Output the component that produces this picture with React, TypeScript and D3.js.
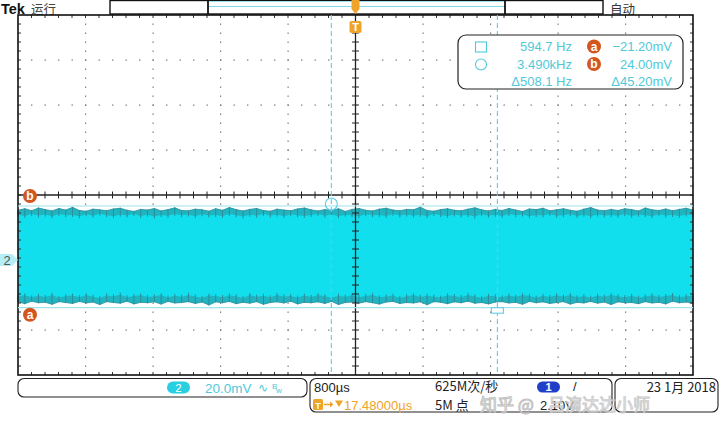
import React from "react";
import * as d3 from "d3";

// ---- data ----
const timeDomain = [-4, 4]; // ms, 800µs/div, 10 div
const voltDomain = [-51.11, 108.89]; // mV, 20mV/div, ch2 ground offset
const cursorTimes = [-0.2865, 1.6815]; // ms  (circle, square)
const cursorVolts = [-21.2, 24.0]; // mV (a, b)

const topEnv = [
  22.1, 22.8, 21.9, 23.1, 22.4, 21.8, 22.9, 22.2, 23.4, 22.0,
  21.7, 22.6, 22.3, 21.9, 22.7, 23.0, 22.1, 21.6, 22.5, 22.2,
  22.9, 21.8, 22.4, 23.2, 22.0, 21.9, 22.6, 22.3, 21.7, 22.8,
  22.1, 23.3, 22.4, 21.8, 22.5, 22.9, 22.0, 21.7, 22.6, 22.2,
  21.9, 22.7, 23.1, 22.3, 21.8, 22.4, 22.0, 22.8, 21.6, 22.5,
  22.9, 22.1, 21.8, 22.6, 23.0, 22.2, 21.9, 22.5, 22.3, 23.5,
  22.0, 21.7, 22.4, 22.8, 22.1, 21.9, 22.6, 23.2, 22.3, 21.8,
  22.5, 22.0, 22.9, 22.2, 21.6, 22.7, 22.4, 23.0, 21.9, 22.3,
  22.8, 22.1, 21.7, 22.6, 23.3, 22.2, 21.9, 22.5, 22.0, 22.8,
  22.4, 21.8, 23.1, 22.3, 22.0, 22.7, 21.9, 22.5, 23.0, 22.2,
];
const topInner = [
  20.1, 19.6, 20.4, 19.8, 20.2, 19.5, 20.5, 19.9, 20.0, 19.4,
  20.3, 19.7, 20.6, 19.9, 19.5, 20.2, 19.8, 20.4, 19.6, 20.1,
  19.3, 20.0, 19.7, 20.5, 19.9, 20.2, 19.5, 20.3, 19.8, 20.0,
  19.6, 20.4, 19.9, 19.4, 20.1, 19.7, 20.5, 19.8, 20.2, 19.5,
  20.3, 19.9, 19.6, 20.0, 20.4, 19.7, 20.2, 19.5, 20.1, 19.8,
  19.4, 20.3, 19.9, 20.0, 19.6, 20.5, 19.8, 20.2, 19.7, 20.1,
  19.5, 20.4, 19.9, 19.6, 20.2, 19.8, 20.0, 19.3, 20.3, 19.7,
  20.1, 19.6, 20.4, 19.9, 20.2, 19.5, 20.0, 19.8, 20.5, 19.7,
  19.9, 20.3, 19.6, 20.1, 19.4, 20.2, 19.8, 20.0, 19.7, 20.4,
  19.6, 20.1, 19.9, 19.5, 20.3, 19.8, 20.0, 19.6, 20.2, 19.9,
];
const bottomEnv = [
  -18.6, -19.4, -18.3, -19.0, -18.8, -19.7, -18.5, -18.9, -19.3, -18.4,
  -19.1, -18.7, -19.8, -18.5, -18.9, -19.2, -18.3, -19.5, -18.8, -19.0,
  -18.6, -19.6, -18.4, -19.1, -18.9, -18.5, -19.3, -18.7, -20.0, -18.6,
  -19.0, -18.4, -19.4, -18.8, -19.2, -18.5, -19.7, -18.9, -18.6, -19.1,
  -18.3, -19.5, -18.8, -19.0, -18.6, -19.3, -18.4, -19.8, -18.9, -18.7,
  -19.2, -18.5, -19.0, -19.6, -18.7, -18.4, -19.3, -18.9, -19.1, -18.6,
  -19.9, -18.5, -18.8, -19.4, -18.6, -19.0, -18.3, -19.2, -18.9, -19.5,
  -18.7, -18.5, -19.1, -18.8, -19.7, -18.4, -19.0, -18.6, -19.3, -18.9,
  -18.5, -19.6, -18.8, -19.1, -18.4, -19.2, -18.7, -19.8, -18.6, -19.0,
  -18.9, -19.4, -18.5, -19.1, -18.8, -19.5, -18.3, -19.0, -18.7, -19.3,
];
const bottomInner = [
  -16.2, -15.7, -16.6, -15.9, -16.4, -15.5, -16.8, -16.0, -15.8, -16.5,
  -15.6, -16.3, -16.9, -15.8, -16.1, -15.4, -16.6, -16.0, -15.7, -16.4,
  -16.1, -15.6, -16.7, -15.9, -16.3, -15.5, -16.2, -16.8, -15.8, -16.0,
  -16.5, -15.7, -16.1, -16.9, -15.6, -16.3, -15.9, -16.6, -15.5, -16.2,
  -16.0, -16.7, -15.8, -16.4, -15.6, -16.1, -16.8, -15.9, -16.3, -15.7,
  -16.5, -16.0, -15.5, -16.6, -16.2, -15.8, -16.9, -16.1, -15.6, -16.4,
  -15.9, -16.3, -16.7, -15.7, -16.0, -16.5, -15.5, -16.2, -16.8, -15.9,
  -16.1, -16.6, -15.8, -16.3, -15.6, -16.0, -16.7, -15.9, -16.4, -15.7,
  -16.2, -15.5, -16.6, -16.0, -16.8, -15.8, -16.3, -15.6, -16.1, -16.5,
  -15.9, -16.7, -16.2, -15.7, -16.4, -16.0, -15.6, -16.5, -16.1, -15.8,
];

const readouts = [
  { sym: "square", freq: "594.7 Hz", tag: "a", volt: "\u221221.20mV" },
  { sym: "circle", freq: "3.490kHz", tag: "b", volt: "24.00mV" },
  { sym: "", freq: "\u0394508.1 Hz", tag: "", volt: "\u039445.20mV" },
];
const ch2Scale = "20.0mV";
const timebase = "800\u00b5s";
const trigPos = "17.48000\u00b5s";
const sampleRate = "625M\u6b21/\u79d2";
const recordLen = "5M \u70b9";
const trigLevel = "2.10V";
const dateText = "23 1\u6708 2018";

const W = 720, H = 432;
const L = 18, R = 693, T = 15, B = 375;
const CYAN = "#12dfee";
const DARK = "#2a98a4";
const TXT = "#4fc9da";
const ORANGE = "#d4561f";
const TRIG = "#f0a329";
const LATIN = "'Liberation Sans', Arial, sans-serif";
const CJK = "'Noto Sans CJK SC', sans-serif";

export default function App() {
  const x = d3.scaleLinear().domain(timeDomain).range([L, R]);
  const y = d3.scaleLinear().domain(voltDomain).range([B, T]);
  const n = topEnv.length;
  const ts = d3.range(n).map((i) => timeDomain[0] + ((timeDomain[1] - timeDomain[0]) * i) / (n - 1));

  const bandArea = d3.area<number>().x((_, i) => x(ts[i])).y0((_, i) => y(bottomEnv[i])).y1((_, i) => y(topEnv[i]));
  const topFringe = d3.area<number>().x((_, i) => x(ts[i])).y0((_, i) => y(topInner[i])).y1((_, i) => y(topEnv[i]));
  const botFringe = d3.area<number>().x((_, i) => x(ts[i])).y0((_, i) => y(bottomEnv[i])).y1((_, i) => y(bottomInner[i]));
  const topLine = d3.line<number>().x((_, i) => x(ts[i])).y((_, i) => y(topEnv[i]));
  const botLine = d3.line<number>().x((_, i) => x(ts[i])).y((_, i) => y(bottomEnv[i]));
  const idx = d3.range(n);

  const divX = (R - L) / 10, divY = (B - T) / 8;
  const cx = (L + R) / 2, cy = (T + B) / 2;

  const grid: React.ReactNode[] = [];
  for (let i = 1; i < 10; i++) {
    if (i === 5) continue;
    const gx = L + i * divX;
    for (let k = 1; k < 40; k++) grid.push(<rect key={`gv${i}-${k}`} x={gx - 0.5} y={T + k * (divY / 5) - 0.5} width={1.2} height={1.4} fill="#7a7a7a" />);
  }
  for (let j = 1; j < 8; j++) {
    if (j === 4) continue;
    const gy = T + j * divY;
    for (let k = 1; k < 50; k++) grid.push(<rect key={`gh${j}-${k}`} x={L + k * (divX / 5) - 0.5} y={gy - 0.5} width={1.4} height={1.2} fill="#7a7a7a" />);
  }
  const ticks: React.ReactNode[] = [];
  for (let k = 1; k < 50; k++) {
    const tx = L + k * (divX / 5);
    ticks.push(<line key={`ct${k}`} x1={tx} x2={tx} y1={cy - 3.5} y2={cy + 3.5} stroke="#222" strokeWidth={1} />);
    ticks.push(<line key={`tt${k}`} x1={tx} x2={tx} y1={T} y2={T + 3} stroke="#333" strokeWidth={1} />);
    ticks.push(<line key={`bt${k}`} x1={tx} x2={tx} y1={B - 3} y2={B} stroke="#333" strokeWidth={1} />);
  }
  for (let k = 1; k < 40; k++) {
    const ty = T + k * (divY / 5);
    ticks.push(<line key={`cv${k}`} x1={cx - 3.5} x2={cx + 3.5} y1={ty} y2={ty} stroke="#222" strokeWidth={1} />);
    ticks.push(<line key={`lt${k}`} x1={L} x2={L + 3} y1={ty} y2={ty} stroke="#333" strokeWidth={1} />);
    ticks.push(<line key={`rt${k}`} x1={R - 3} x2={R} y1={ty} y2={ty} stroke="#333" strokeWidth={1} />);
  }

  const ya = y(cursorVolts[0]);
  const yb = y(cursorVolts[1]);
  const xc = x(cursorTimes[0]);
  const xs = x(cursorTimes[1]);
  const y0 = y(0);

  return (
    <svg width={W} height={H} style={{ position: "absolute", left: 0, top: 0, background: "#fff" }}>
      <rect x={0} y={0} width={W} height={H} fill="#fff" />
      {/* top status bar */}
      <text x={1} y={13.5} fontFamily={LATIN} fontWeight="bold" fontSize={14.5} fill="#111">Tek</text>
      <text x={31} y={14} fontFamily={CJK} fontSize={12.5} fill="#444">运行</text>
      <rect x={110} y={0.5} width={493} height={13.5} fill="#fff" stroke="#111" strokeWidth={1.4} />
      <line x1={208} x2={505} y1={1.5} y2={1.5} stroke="#9fe3ee" strokeWidth={1.2} />
      <line x1={208} x2={505} y1={6.5} y2={6.5} stroke="#7fd9e8" strokeWidth={1.2} />
      <line x1={208} x2={208} y1={0} y2={14} stroke="#111" strokeWidth={1.8} />
      <line x1={505} x2={505} y1={0} y2={14} stroke="#111" strokeWidth={1.8} />
      <path d={`M${cx - 4},0 L${cx + 4},0 L${cx + 4},9 L${cx},14 L${cx - 4},9 Z`} fill={TRIG} />
      <text x={610} y={14} fontFamily={CJK} fontSize={12.5} fill="#333">自动</text>

      {/* grid */}
      {grid}

      {/* waveform */}
      <path d={bandArea(idx) || ""} fill={CYAN} />
      <path d={topFringe(idx) || ""} fill={DARK} opacity={0.6} />
      <path d={botFringe(idx) || ""} fill={DARK} opacity={0.6} />
      {idx.map((i) => (
        <g key={`sp${i}`}>
          <line x1={x(ts[i])} x2={x(ts[i])} y1={y(topEnv[i]) - 0.5} y2={y(topInner[i]) + 2} stroke="#2a8e99" strokeWidth={1} />
          <line x1={x(ts[i])} x2={x(ts[i])} y1={y(bottomEnv[i]) + 0.5} y2={y(bottomInner[i]) - 2} stroke="#2a8e99" strokeWidth={1} />
        </g>
      ))}
      <path d={topLine(idx) || ""} fill="none" stroke="#2b8f9a" strokeWidth={0.8} />
      <path d={botLine(idx) || ""} fill="none" stroke="#2b8f9a" strokeWidth={0.8} />

      {/* frame and axes */}
      <line x1={L} x2={R} y1={cy} y2={cy} stroke="#222" strokeWidth={1.3} />
      <line x1={cx} x2={cx} y1={T} y2={B} stroke="#222" strokeWidth={1.3} />
      {ticks}
      <rect x={L} y={T} width={R - L} height={B - T} fill="none" stroke="#111" strokeWidth={1.6} />

      {/* cursors */}
      <line x1={L} x2={R} y1={yb} y2={yb} stroke="#9fe3ee" strokeWidth={1.2} />
      <line x1={L} x2={R} y1={ya} y2={ya} stroke="#9fe3ee" strokeWidth={1.2} />
      <line x1={xc} x2={xc} y1={T} y2={B} stroke="#5fcde6" strokeWidth={1.1} strokeDasharray="5,3" />
      <line x1={xs} x2={xs} y1={T} y2={B} stroke="#5fcde6" strokeWidth={1.1} strokeDasharray="5,3" />
      <circle cx={xc} cy={yb - 2} r={6} fill="none" stroke="#5fcde6" strokeWidth={1.1} />
      <rect x={xs - 6} y={ya} width={12} height={5.5} fill="#fff" stroke="#5fcde6" strokeWidth={1.1} />

      {/* cursor tags */}
      <circle cx={30} cy={yb - 10} r={7} fill={ORANGE} />
      <text x={30} y={yb - 6} textAnchor="middle" fontFamily={LATIN} fontWeight="bold" fontSize={12} fill="#fff">b</text>
      <circle cx={30} cy={ya + 7} r={7} fill={ORANGE} />
      <text x={30} y={ya + 11} textAnchor="middle" fontFamily={LATIN} fontWeight="bold" fontSize={12} fill="#fff">a</text>

      {/* channel 2 marker */}
      <path d={`M0,${y0 - 6} L12,${y0 - 6} L18,${y0} L12,${y0 + 6} L0,${y0 + 6} Z`} fill="#b5eef5" />
      <text x={7} y={y0 + 5} textAnchor="middle" fontFamily={LATIN} fontSize={13} fill="#555">2</text>

      {/* trigger marker */}
      <rect x={cx - 6} y={21} width={12} height={12} rx={2} fill={TRIG} />
      <text x={cx} y={31} textAnchor="middle" fontFamily={LATIN} fontWeight="bold" fontSize={11} fill="#fff">T</text>

      {/* readout box */}
      <rect x={458} y={35} width={225} height={54} rx={8} fill="#fff" stroke="#222" strokeWidth={1.2} />
      {readouts.map((r, i) => {
        const by = 51 + i * 17.5;
        return (
          <g key={i}>
            {r.sym === "square" && <rect x={475.5} y={by - 9} width={11} height={10} fill="none" stroke={TXT} strokeWidth={1.1} />}
            {r.sym === "circle" && <circle cx={481} cy={by - 4} r={5.5} fill="none" stroke={TXT} strokeWidth={1.1} />}
            <text x={572} y={by} textAnchor="end" fontFamily={LATIN} fontSize={13} fill={TXT}>{r.freq}</text>
            {r.tag && (
              <g>
                <circle cx={594} cy={by - 4.5} r={7} fill={ORANGE} />
                <text x={594} y={by - 0.5} textAnchor="middle" fontFamily={LATIN} fontWeight="bold" fontSize={12} fill="#fff">{r.tag}</text>
              </g>
            )}
            <text x={672} y={by} textAnchor="end" fontFamily={LATIN} fontSize={13} fill={TXT}>{r.volt}</text>
          </g>
        );
      })}

      {/* bottom status */}
      <rect x={18} y={378.5} width={289} height={18.5} rx={6} fill="#fff" stroke="#222" strokeWidth={1.1} />
      <rect x={167} y={381.5} width={23} height={12} rx={6} fill="#27cfe0" />
      <text x={178.5} y={392} textAnchor="middle" fontFamily={LATIN} fontSize={11.5} fill="#fff">2</text>
      <text x={205} y={393} fontFamily={LATIN} fontSize={13.5} fill={TXT}>{ch2Scale}</text>
      <text x={258} y={392} fontFamily={LATIN} fontSize={12} fill={TXT}>∿</text>
      <text x={272} y={389} fontFamily={LATIN} fontSize={8} fill={TXT}>B</text>
      <text x={276} y={393} fontFamily={LATIN} fontSize={8} fill={TXT}>w</text>

      <rect x={310} y={378.5} width={302} height={33.5} rx={6} fill="#fff" stroke="#222" strokeWidth={1.1} />
      <text x={314} y={392} fontFamily={LATIN} fontSize={13} fill="#222">{timebase}</text>
      <rect x={313} y={399} width={10} height={11} rx={1.5} fill={TRIG} />
      <text x={318} y={408.5} textAnchor="middle" fontFamily={LATIN} fontWeight="bold" fontSize={9} fill="#fff">T</text>
      <line x1={324} x2={330} y1={404.5} y2={404.5} stroke={TRIG} strokeWidth={1.5} />
      <path d="M330,401.5 L333.5,404.5 L330,407.5 Z" fill={TRIG} />
      <path d="M335,400.5 L343,400.5 L339,407 Z" fill={TRIG} />
      <text x={344} y={410} fontFamily={LATIN} fontSize={13} fill={TRIG}>{trigPos}</text>
      <text x={435} y={391} fontFamily={CJK} fontSize={13} fill="#222">{sampleRate}</text>
      <text x={435} y={410} fontFamily={CJK} fontSize={13} fill="#222">{recordLen}</text>
      <rect x={537} y={381.5} width={23} height={11} rx={5.5} fill="#1f3fc8" />
      <text x={548.5} y={391} textAnchor="middle" fontFamily={LATIN} fontWeight="bold" fontSize={11} fill="#fff">1</text>
      <text x={573} y={391} fontFamily={LATIN} fontSize={13} fill="#222">/</text>
      <text x={540} y={410} fontFamily={LATIN} fontSize={13} fill="#222">{trigLevel}</text>

      <rect x={615} y={378.5} width={103} height={33.5} rx={6} fill="#fff" stroke="#222" strokeWidth={1.1} />
      <text x={716} y={392} textAnchor="end" fontFamily={CJK} fontSize={13} fill="#222">{dateText}</text>

      {/* watermark */}
      <text x={480} y={411} fontFamily={CJK} fontSize={17} fill="#ffffff" stroke="#bdbdbd" strokeWidth={1} opacity={0.9}>知乎 @</text>
      <text x={548} y={411} fontFamily={CJK} fontSize={17} fill="#ffffff" stroke="#c4c4c4" strokeWidth={1} opacity={0.85}>吕演达达小师</text>
    </svg>
  );
}
